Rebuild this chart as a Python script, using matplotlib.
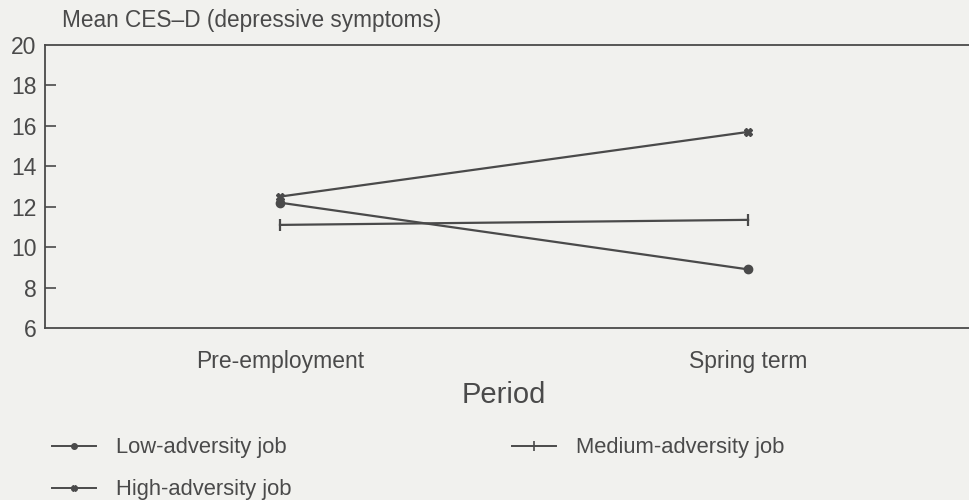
import matplotlib
matplotlib.use("Agg")
import matplotlib.pyplot as plt
from matplotlib.lines import Line2D

periods = ["Pre-employment", "Spring term"]
low = [12.2, 8.9]
medium = [11.1, 11.35]
high = [12.5, 15.7]
ylabels_all = [6, 8, 10, 12, 14, 16, 18, 20]

bg = "#f1f1ee"
ink = "#4a4a4a"
plt.rcParams['font.family'] = ['Liberation Sans', 'DejaVu Sans']

fig = plt.figure(figsize=(9.69, 5.0), dpi=100, facecolor=bg)
ax = fig.add_axes([45/969, 1-328/500, 1-45/969, (328-45)/500], facecolor=bg)

x = list(range(len(periods)))
ax.plot(x, low, color=ink, lw=1.6, marker='o', ms=6, mfc=ink, mec=ink)
ax.plot(x, medium, color=ink, lw=1.6, marker='|', ms=8, mew=1.6, mec=ink)
ax.plot(x, high, color=ink, lw=1.6, marker='X', ms=6, mfc=ink, mec=ink)

ax.set_xlim(-0.502, 1.472)
ax.set_ylim(6, 20)
ax.set_yticks(ylabels_all)
ax.set_yticklabels([str(v) for v in ylabels_all], fontsize=16.5, color=ink)
ax.tick_params(axis='y', direction='in', length=8, width=1.2, color=ink, pad=6)
for t in ax.yaxis.get_major_ticks():
    if t.get_loc() in (6, 20):
        t.tick1line.set_visible(False)
ax.set_xticks(x)
ax.set_xticklabels(periods, fontsize=16.5, color=ink)
ax.tick_params(axis='x', length=0, pad=16)
for s in ['left', 'bottom', 'top']:
    ax.spines[s].set_color(ink)
    ax.spines[s].set_linewidth(1.3)
ax.spines['right'].set_visible(False)

fig.text(462/969, 1-395/500, "Period", fontsize=21, color=ink, ha='left', va='center')
fig.text(62/969, 1-21/500, "Mean CES\u2013D (depressive symptoms)", fontsize=16.3, color=ink,
         ha='left', va='center')

handles = [
    Line2D([], [], color=ink, lw=1.4, marker='o', ms=4, mfc=ink, mec=ink),
    Line2D([], [], color=ink, lw=1.4, marker='|', ms=7, mew=1.2, mec=ink),
    Line2D([], [], color=ink, lw=1.4, marker='X', ms=4, mfc=ink, mec=ink),
]
labels = ["Low-adversity job", "Medium-adversity job", "High-adversity job"]
pos = [(52, 448), (512, 448), (52, 490)]
for h, lab, (px, py) in zip(handles, labels, pos):
    fig.legend([h], [lab], loc='center left', bbox_to_anchor=(px/969, 1-py/500),
               frameon=False, fontsize=15.8, handlelength=2.0, handletextpad=0.9,
               borderpad=0, borderaxespad=0, labelcolor=ink)

fig.savefig("out.png", dpi=100, facecolor=bg)
